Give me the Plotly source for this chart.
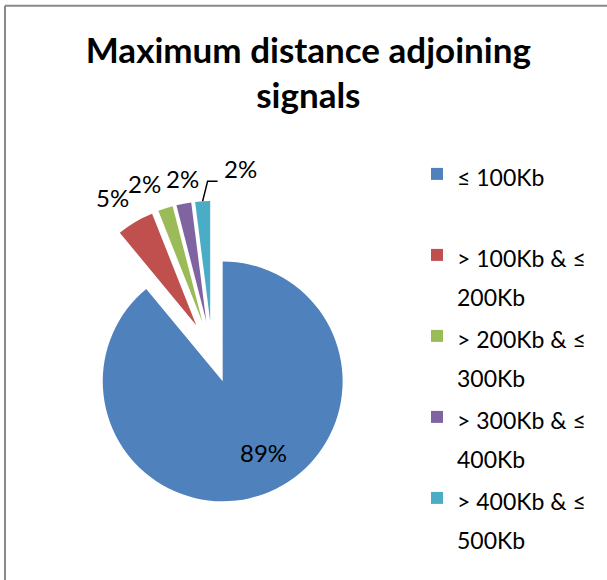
import math
import plotly.graph_objects as go

# Share of adjoining-signal pairs by maximum distance
categories = [
    "≤ 100Kb",
    "> 100Kb & ≤<br>200Kb",
    "> 200Kb & ≤<br>300Kb",
    "> 300Kb & ≤<br>400Kb",
    "> 400Kb & ≤<br>500Kb",
]
shares = [89, 5, 2, 2, 2]
colors = ["#4F81BD", "#C0504D", "#9BBB59", "#8064A2", "#4BACC6"]

FONT = "Lato"
W, H = 607, 580
PULL = 0.26
DOMAIN_X = [0.1005, 0.5984]
DOMAIN_Y = [0.1324, 0.6538]
LABEL_SIZE = 24

# legend labels: smaller glyphs inside a taller line box; single-line entry padded to two lines
legend_labels = []
for c in categories:
    txt = c if "<br>" in c else c + "<br> "
    txt = txt.replace("<br>", "</span><br><span style='font-size:23px'>")
    legend_labels.append("<span style='font-size:23px'>" + txt + "</span>")

fig = go.Figure(
    go.Pie(
        labels=legend_labels,
        values=shares,
        sort=False,
        direction="clockwise",
        rotation=0,
        pull=[PULL] * len(shares),
        marker=dict(colors=colors, line=dict(width=0)),
        textinfo="none",
        domain=dict(x=DOMAIN_X, y=DOMAIN_Y),
        hoverinfo="label+percent",
    )
)

# pie geometry in pixels (plotly shrinks the radius so pulled slices fit the domain)
cx = (DOMAIN_X[0] + DOMAIN_X[1]) / 2 * W
cy = (1 - (DOMAIN_Y[0] + DOMAIN_Y[1]) / 2) * H
r = min((DOMAIN_X[1] - DOMAIN_X[0]) * W, (DOMAIN_Y[1] - DOMAIN_Y[0]) * H) / 2 / (1 + PULL)


def to_paper(px, py):
    return px / W, 1 - py / H


def unit(deg):
    a = math.radians(deg)
    return math.sin(a), -math.cos(a)


total = sum(shares)
annotations = []
shapes = [
    dict(type="line", xref="paper", yref="paper", x0=0.0082, x1=0.0082, y0=0, y1=0.99,
         line=dict(color="#898989", width=2)),
    dict(type="line", xref="paper", yref="paper", x0=0.0082, x1=1, y0=0.99, y1=0.99,
         line=dict(color="#898989", width=2)),
]
label_font = dict(family=FONT, size=LABEL_SIZE, color="#000000")
label_w = 1.35 * LABEL_SIZE
prev_right = None
cum = 0
for i, v in enumerate(shares):
    mid = (cum + v / 2) / total * 360
    cum += v
    txt = f"{round(v / total * 100)}%"
    ux, uy = unit(mid)
    vx, vy = cx + PULL * r * ux, cy + PULL * r * uy
    if v / total > 0.5:
        # large slice: label inside
        lx, ly = unit(mid - 10)
        x, y = to_paper(vx + 0.68 * r * lx, vy + 0.68 * r * ly)
        annotations.append(dict(x=x, y=y, xref="paper", yref="paper", text=txt,
                                showarrow=False, xanchor="center", yanchor="middle",
                                font=label_font))
        continue
    ox, oy = vx + r * ux, vy + r * uy  # outer edge point of the slice
    ax_, ay_ = vx + (r + 9) * ux, vy + (r + 9) * uy
    xanchor = "right" if ux < -0.25 else ("left" if ux > 0.25 else "center")
    left = ax_ - (label_w if xanchor == "right" else label_w / 2 if xanchor == "center" else 0)
    if prev_right is not None and left < prev_right - 4:
        # crowded: move the label aside and connect it with a leader line
        ex, ey = ox + 5, oy - 20
        fx, fy = ox + 15, oy - 20
        p = [to_paper(ox, oy), to_paper(ex, ey), to_paper(fx, fy)]
        shapes.append(dict(type="path", xref="paper", yref="paper",
                           path=f"M{p[0][0]},{p[0][1]} L{p[1][0]},{p[1][1]} L{p[2][0]},{p[2][1]}",
                           line=dict(color="#000000", width=1.5)))
        x, y = to_paper(fx + 4, fy + 4)
        annotations.append(dict(x=x, y=y, xref="paper", yref="paper", text=txt,
                                showarrow=False, xanchor="left", yanchor="bottom",
                                font=label_font))
        prev_right = fx + 4 + label_w
        continue
    x, y = to_paper(ax_, ay_)
    annotations.append(dict(x=x, y=y, xref="paper", yref="paper", text=txt,
                            showarrow=False, xanchor=xanchor, yanchor="bottom",
                            font=label_font))
    prev_right = left + label_w

fig.update_layout(
    width=W,
    height=H,
    margin=dict(l=0, r=0, t=0, b=0),
    paper_bgcolor="#FFFFFF",
    plot_bgcolor="#FFFFFF",
    font=dict(family=FONT, color="#000000"),
    title=dict(
        text="<b>Maximum distance adjoining<br>signals</b>",
        font=dict(family=FONT, size=35, color="#000000"),
        x=0.508,
        xanchor="center",
        y=0.892,
        yanchor="top",
        yref="container",
    ),
    legend=dict(
        x=0.687,
        y=0.745,
        xanchor="left",
        yanchor="top",
        valign="top",
        font=dict(family=FONT, size=30, color="#000000"),
        bgcolor="rgba(0,0,0,0)",
    ),
    annotations=annotations,
    shapes=shapes,
)

fig.write_html("out.html")
